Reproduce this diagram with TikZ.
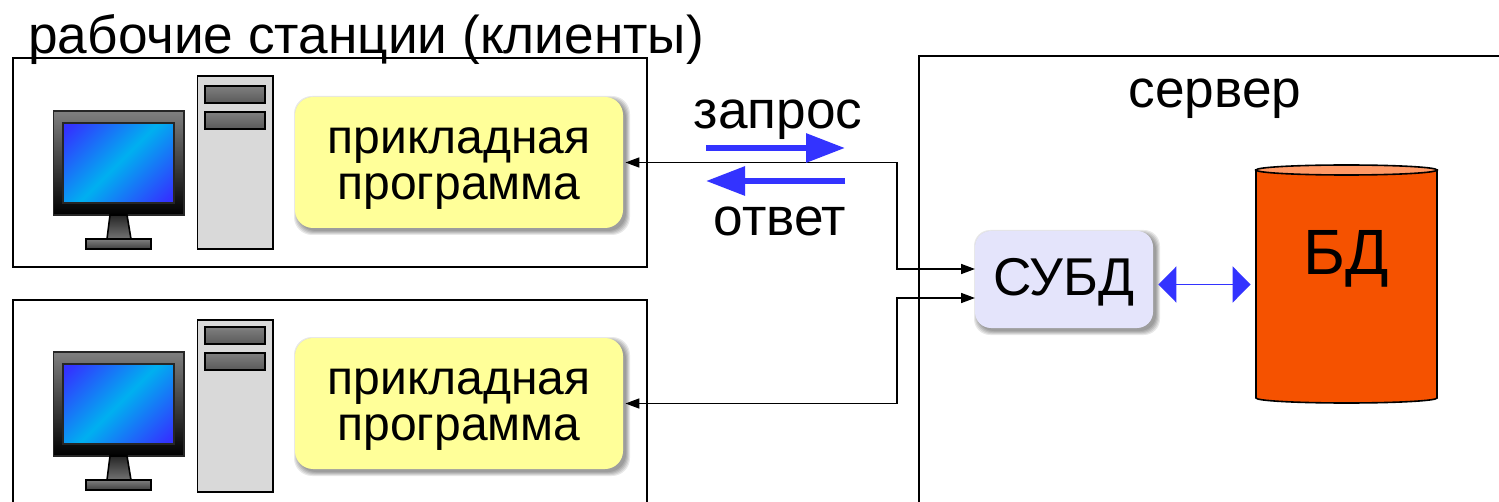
\documentclass[tikz,border=0pt]{standalone}
\usepackage{fontspec}
\setmainfont{Liberation Sans}
\usetikzlibrary{arrows.meta,calc}
\definecolor{blueA}{HTML}{3333FF}
\definecolor{cyanA}{HTML}{00B0F0}
\definecolor{appfill}{HTML}{FFFF99}
\definecolor{subdfill}{HTML}{E4E4FB}
\definecolor{dbfill}{HTML}{F55200}
\definecolor{dbtop}{HTML}{FF9966}
\pgfdeclareverticalshading{screenshade}{100bp}{color(0bp)=(blueA); color(18bp)=(blueA); color(50bp)=(cyanA); color(82bp)=(blueA); color(100bp)=(blueA)}
\tikzset{
  x=0.5pt,y=-0.5pt,
  frame/.style={draw=black,line width=0.9pt,fill=white},
  txt/.style={inner sep=0pt,anchor=base,font=\fontsize{26.6}{26.6}\selectfont},
  apptext/.style={inner sep=0pt,align=center,font=\fontsize{24}{23}\selectfont},
  appbox/.style={rounded corners=9pt,fill=appfill,minimum width=164pt,minimum height=65.5pt,inner sep=0pt},
  subdbox/.style={rounded corners=8pt,fill=subdfill,minimum width=89pt,minimum height=48.5pt,inner sep=0pt},
  conn/.style={draw=black,line width=0.8pt,{Triangle[length=7pt,width=5pt]}-{Triangle[length=7pt,width=5pt]},shorten <=1pt},
  bluearrow/.style={draw=blueA,line width=3pt,-{Triangle[length=19.5pt,width=14pt]}},
  dblarrow/.style={draw=blueA,line width=0.9pt,{Triangle[length=9pt,width=18pt]}-{Triangle[length=9pt,width=18pt]},shorten <=2.5pt,shorten >=2.5pt},
  part/.style={draw=black,line width=0.8pt},
}
\newcommand{\softshade}[5]{%
  \foreach \i in {0,1,2,3,4}{
    \fill[black,opacity=0.09,rounded corners=#5]
      ({#1+\i-1},{#2+\i-1}) rectangle ({#3+7-\i},{#4+7-\i});
  }}
% #1 shift of monitor and bays, #2 tower top, #3 tower bottom
\newcommand{\workstation}[3]{%
  \draw[part,fill=black!15] (197.5,#2) rectangle (273,#3);
  \begin{scope}[yshift=#1]
    \draw[part,draw=black!85,top color=black!50,bottom color=black,middle color=black!75] (53.5,111) rectangle (184,215);
    \draw[draw=black!85,line width=0.8pt,shading=screenshade,shading angle=45] (63,123) rectangle (174,203);
    \draw[part,top color=black!85,bottom color=black!55] (110,215) -- (127,215) -- (131,239) -- (107,239) -- cycle;
    \draw[part,top color=black!50,bottom color=black!75] (86,239) rectangle (151,249);
    \draw[part,top color=black!50,bottom color=black!65] (205,86) rectangle (265,103);
    \draw[part,top color=black!50,bottom color=black!65] (205,112) rectangle (265,129);
  \end{scope}}
\begin{document}
\begin{tikzpicture}
\useasboundingbox (0,0) rectangle (1499,502);
\clip (0,0) rectangle (1499,502);
\fill[white] (0,0) rectangle (1499,502);
% frames
\draw[frame] (13,58) rectangle (647,267);
\draw[frame] (13,300) rectangle (647,540);
\draw[frame] (919,56) rectangle (1540,540);
\node[txt,anchor=base west] (title) at (28,53.5) {рабочие станции (клиенты)};
% workstations
\workstation{0pt}{76}{249}
\workstation{-120.5pt}{320}{492}
% applications
\softshade{295}{97}{623}{228}{9pt}
\node[appbox] (appA) at (459,162.5) {};
\node[apptext,yshift=-3.25pt] (appAtext) at (appA) {прикладная\\программа};
\softshade{295}{338}{623}{469}{9pt}
\node[appbox] (appB) at (459,403.5) {};
\node[apptext,yshift=-3.25pt] (appBtext) at (appB) {прикладная\\программа};
% DBMS
\softshade{975}{231}{1153}{328}{8pt}
\node[subdbox] (subd) at (1064,279.5) {};
\node[txt] (subdtext) at (1064,296) {СУБД};
% database
\node[minimum width=90.5pt,minimum height=119pt,inner sep=0pt] (db) at (1346.5,284.5) {};
\draw[black,line width=0.8pt,fill=dbfill] (1256,170) -- (1256,398) arc[start angle=180,end angle=360,x radius=90.5,y radius=-5] -- (1437,170) -- cycle;
\draw[black,line width=0.8pt,fill=dbtop] (1346.5,170) ellipse[x radius=90.5,y radius=5];
\node[txt,font=\fontsize{32}{32}\selectfont] (dbtext) at (1346,275) {БД};
\node[txt] (server) at (1215,107.5) {сервер};
\node[txt] (req) at (778,128.5) {запрос};
\node[txt] (resp) at (780,236) {ответ};
% connectors
\coordinate (subdA) at (975,269);
\coordinate (subdB) at (975,298);
\coordinate (busX) at (897,163);
\draw[conn] (appA.east) -- (busX |- appA.east) |- (subdA);
\draw[conn] (appB.east) -- (busX |- appB.east) |- (subdB);
\draw[dblarrow] (subd.east |- db.west) -- (db.west);
% request/response arrows
\coordinate (reqL) at (706,148);
\coordinate (reqR) at (845,148);
\coordinate (respL) at (706,181);
\coordinate (respR) at (845,181);
\draw[bluearrow] (reqL) -- (reqR);
\draw[bluearrow] (respR) -- (respL);
\end{tikzpicture}
\end{document}
